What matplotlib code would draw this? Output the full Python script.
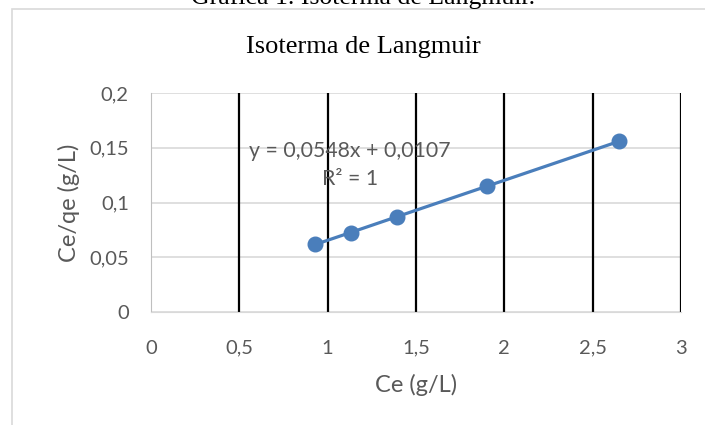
import matplotlib.pyplot as plt
from matplotlib.patches import Rectangle

# data
ce = [0.93, 1.13, 1.39, 1.90, 2.65]
ce_qe = [0.0617, 0.0726, 0.0869, 0.1148, 0.1559]

xticks = [0, 0.5, 1, 1.5, 2, 2.5, 3]
xlabels = ["0", "0,5", "1", "1,5", "2", "2,5", "3"]
yticks = [0, 0.05, 0.1, 0.15, 0.2]
ylabels = ["0", "0,05", "0,1", "0,15", "0,2"]

W, H = 705, 425
fig = plt.figure(figsize=(W / 100, H / 100), dpi=100)

# chart frame (light gray border, runs off the right/bottom)
fig.patches.append(Rectangle((12 / W, -0.05), 1.2, (H - 9) / H + 0.05,
                             transform=fig.transFigure, fill=False,
                             edgecolor="#D9D9D9", lw=1.2))

fig.text(363 / W, 1 - 4 / H, "Gráfica 1. Isoterma de Langmuir.",
         family="Liberation Serif", fontsize=18.5, ha="center", va="baseline")
fig.text(363 / W, 1 - 47 / H, "Isoterma de Langmuir",
         family="Liberation Serif", fontsize=19, ha="center", va="center")

ax = fig.add_axes([151 / W, 113 / H, 530 / W, 219 / H])
ax.set_xlim(0, 3)
ax.set_ylim(0, 0.2)

ax.set_yticks(yticks)
ax.set_yticklabels(ylabels)
ax.set_xticks(xticks)
ax.set_xticklabels(xlabels)
ax.tick_params(length=0, colors="#595959", labelsize=14.5)
ax.tick_params(axis="y", pad=16)
ax.tick_params(axis="x", pad=20)
for lab in ax.get_xticklabels() + ax.get_yticklabels():
    lab.set_family("Lato")

ax.grid(axis="y", color="#D9D9D9", lw=1.2)
ax.set_axisbelow(True)
ax.vlines(xticks[1:], 0, 0.2, color="black", lw=1.6, zorder=1)

for s in ["top", "right"]:
    ax.spines[s].set_visible(False)
ax.spines["left"].set_color("#BFBFBF")
ax.spines["bottom"].set_color("#D9D9D9")

ax.plot(ce, ce_qe, "-o", color="#4A7EBB", lw=2.3, ms=10.5, zorder=3)

ax.text(1.125, 0.134, "y = 0,0548x + 0,0107\nR² = 1", ha="center", va="center",
        color="#595959", fontsize=15.3, family="Lato", linespacing=1.5)

ax.set_xlabel("Ce (g/L)", color="#595959", fontsize=17, family="Lato", labelpad=12.5)
ax.set_ylabel("Ce/qe (g/L)", color="#595959", fontsize=17, family="Lato", labelpad=6.5)

fig.savefig("out.png", dpi=100)
